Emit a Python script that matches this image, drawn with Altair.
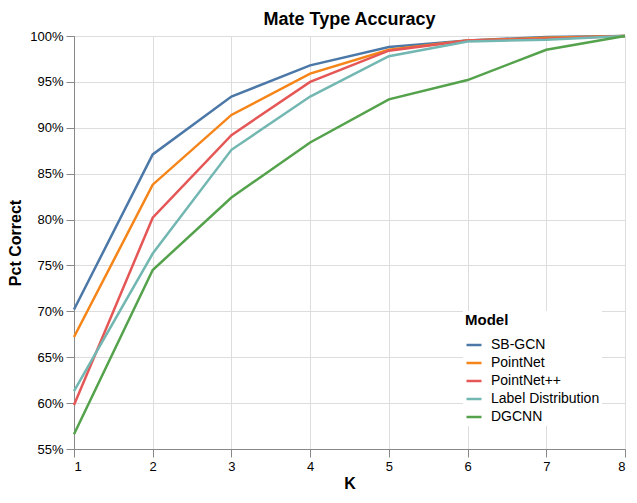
import altair as alt
import pandas as pd

k_values = [1, 2, 3, 4, 5, 6, 7, 8]
y_ticks = [0.55, 0.6, 0.65, 0.7, 0.75, 0.8, 0.85, 0.9, 0.95, 1.0]
models = ["SB-GCN", "PointNet", "PointNet++", "Label Distribution", "DGCNN"]
colors = ["#4c78a8", "#f58518", "#e45756", "#72b7b2", "#54a24b"]

sb_gcn = [0.702, 0.871, 0.934, 0.968, 0.988, 0.995, 0.999, 1.0]
pointnet = [0.672, 0.838, 0.914, 0.959, 0.985, 0.995, 0.998, 1.0]
pointnet_pp = [0.598, 0.802, 0.892, 0.950, 0.984, 0.995, 0.997, 1.0]
label_dist = [0.613, 0.763, 0.876, 0.934, 0.978, 0.994, 0.996, 1.0]
dgcnn = [0.566, 0.745, 0.824, 0.884, 0.931, 0.952, 0.985, 1.0]

series = [sb_gcn, pointnet, pointnet_pp, label_dist, dgcnn]
rows = []
for m, vals in zip(models, series):
    for k, v in zip(k_values, vals):
        rows.append({"K": k, "Pct Correct": v, "Model": m})
df = pd.DataFrame(rows)

FONT = "Liberation Sans"

chart = alt.Chart(df).mark_line(strokeWidth=2.5).encode(
    x=alt.X("K:Q", scale=alt.Scale(domain=[1, 8], nice=False),
            axis=alt.Axis(values=k_values, format="d", labelFontSize=13,
                          titleFontSize=16, tickSize=8, labelPadding=3,
                          titlePadding=2)),
    y=alt.Y("Pct Correct:Q", scale=alt.Scale(domain=[0.55, 1.0], nice=False),
            axis=alt.Axis(format=".0%", values=y_ticks, labelFontSize=13,
                          titleFontSize=16, tickSize=8, labelPadding=3,
                          titlePadding=6)),
    color=alt.Color("Model:N", scale=alt.Scale(domain=models, range=colors),
                    sort=models,
                    legend=alt.Legend(orient="bottom-right", fillColor="white",
                                      labelFontSize=14, titleFontSize=15,
                                      symbolType="stroke", symbolSize=225,
                                      symbolStrokeWidth=2.5, labelOffset=8,
                                      rowPadding=2, titlePadding=8,
                                      padding=2, offset=23)),
).properties(
    width=551, height=413,
    title=alt.TitleParams("Mate Type Accuracy", fontSize=18, offset=1),
    autosize=alt.AutoSizeParams(type="none"),
    padding={"left": 66, "top": 28, "right": 4, "bottom": 42},
).configure(font=FONT)

chart.save("out.html", embed_options={"renderer": "svg", "actions": False})
